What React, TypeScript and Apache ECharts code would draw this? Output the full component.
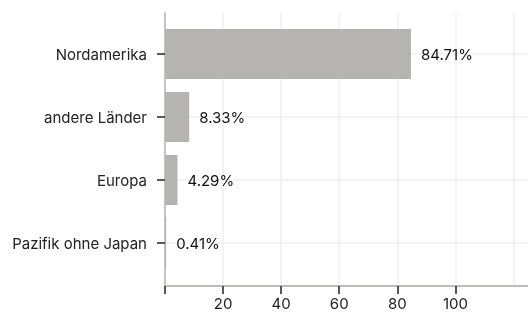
import React, { useEffect, useRef } from "react";
import * as echarts from "echarts";

const categories = ["Nordamerika", "andere Länder", "Europa", "Pazifik ohne Japan"];
const values = [84.71, 8.33, 4.29, 0.41];
const tickValues = [0, 20, 40, 60, 80, 100];
const labelValues = [20, 40, 60, 80, 100];

const FONT = "Inter";

export default function App() {
  const ref = useRef<HTMLDivElement>(null);
  useEffect(() => {
    if (!ref.current) return;
    const chart = echarts.init(ref.current, null, { renderer: "svg" });
    chart.setOption({
      animation: false,
      textStyle: { fontFamily: FONT },
      grid: [
        { left: 165, right: 0, top: 13, bottom: 27 },
        { left: 165, right: 0, top: 22.5, bottom: 38.5 },
      ],
      xAxis: [
        {
          type: "value",
          gridIndex: 0,
          min: 0,
          max: 125,
          interval: 20,
          axisLine: { show: true, lineStyle: { color: "#bcbcb8", width: 2 } },
          axisTick: { show: false },
          axisLabel: { show: false },
          splitLine: {
            show: true,
            showMinLine: false,
            showMaxLine: false,
            lineStyle: { color: "#efefef", width: 1.5 },
          },
        },
        {
          type: "value",
          gridIndex: 1,
          min: 0,
          max: 125,
          interval: 20,
          offset: 11.5,
          axisLine: { show: false },
          axisTick: {
            show: true,
            customValues: tickValues,
            length: 8,
            lineStyle: { color: "#222", width: 1.5 },
          },
          axisLabel: {
            show: true,
            customValues: labelValues,
            margin: 10,
            fontSize: 15,
            lineHeight: 15,
            color: "#222",
            fontFamily: FONT,
          },
          splitLine: { show: false },
        },
      ],
      yAxis: [
        {
          type: "value",
          gridIndex: 0,
          min: 0,
          max: 1,
          axisLine: { show: true, lineStyle: { color: "#c4c4c0", width: 2 } },
          axisTick: { show: false },
          axisLabel: { show: false },
          splitLine: { show: false },
        },
        {
          type: "category",
          gridIndex: 1,
          data: categories,
          inverse: true,
          axisLine: { show: false },
          axisTick: {
            show: true,
            alignWithLabel: true,
            length: 8,
            lineStyle: { color: "#222", width: 1.5 },
          },
          axisLabel: { margin: 18, fontSize: 15, color: "#222", fontFamily: FONT },
          splitLine: {
            show: true,
            alignWithLabel: true,
            lineStyle: { color: "#efefef", width: 1.5 },
          },
        },
      ],
      series: [
        {
          type: "bar",
          xAxisIndex: 1,
          yAxisIndex: 1,
          data: values,
          barWidth: 50,
          itemStyle: { color: "#b5b4b0" },
          label: {
            show: true,
            position: "right",
            distance: 10,
            fontSize: 15,
            color: "#111",
            fontFamily: FONT,
            formatter: (p: any) => p.value.toFixed(2) + "%",
          },
        },
      ],
    });
    return () => chart.dispose();
  }, []);
  return (
    <div
      ref={ref}
      style={{ position: "fixed", left: 0, top: 0, width: 528, height: 313 }}
    />
  );
}
